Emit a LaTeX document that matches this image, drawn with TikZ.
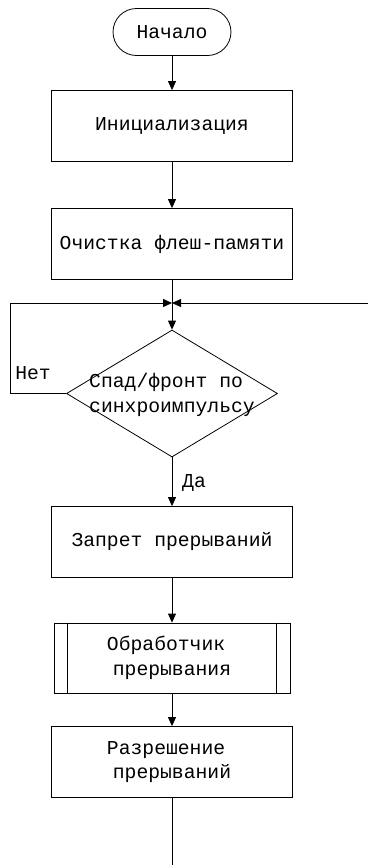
\documentclass[tikz,border=0pt]{standalone}
\usepackage{fontspec}
\setmainfont{Liberation Mono}
\usetikzlibrary{arrows.meta,shapes.geometric}
\begin{document}
\begin{tikzpicture}[x=1pt,y=-1pt,
  line width=0.8pt,
  every node/.style={font=\fontsize{19.7}{24.5}\selectfont},
  arr/.style={-{Triangle[length=9pt,width=8pt]}},
  procbox/.style={draw,rectangle,minimum width=241pt,minimum height=71pt,inner sep=0pt,align=center},
  subproc/.style={draw,rectangle,minimum width=236pt,minimum height=70pt,inner sep=0pt,align=center,
    append after command={
      \pgfextra{\let\tmpnode\tikzlastnode}
      ([xshift=14pt]\tmpnode.north west) edge[-] ([xshift=14pt]\tmpnode.south west)
      ([xshift=-14pt]\tmpnode.north east) edge[-] ([xshift=-14pt]\tmpnode.south east)}},
  termbox/.style={draw,rectangle,rounded corners=23.5pt,minimum width=118pt,minimum height=47pt,inner sep=0pt},
  decbox/.style={draw,diamond,minimum width=211pt,minimum height=127pt,inner sep=0pt},
  lbl/.style={inner sep=0pt}
]
\useasboundingbox (0,0) rectangle (368,865);

% blocks
\node[termbox] (start) at (172,32) {Начало};
\node[procbox] (init) at (172,126) {Инициализация};
\node[procbox] (flash) at (172,244) {Очистка флеш-памяти};
\coordinate (join) at (172,303);
\coordinate (feed) at (368,303);
\node[decbox] (dec) at (172,393.5) {};
\node[lbl,align=center] (dectext) at (172,395) {Спад/фронт по\phantom{x}\\синхроимпульсу};
\node[procbox] (ban) at (172,542) {Запрет прерываний};
\node[subproc] (handler) at (172,658) {Обработчик\phantom{x}\\прерывания};
\node[procbox] (allow) at (172,762) {Разрешение\phantom{x}\\прерываний};
\coordinate (out) at (172,865);

% labels
\node[lbl] (no) at (33,373) {Нет};
\node[lbl] (yes) at (194,483) {Да};

% connectors
\draw[arr] (start) -- (init);
\draw[arr] (init) -- (flash);
\draw (flash) -- (join);
\draw[arr] (dec.west) -- (10,393.5) -- (10,303) -- (join);
\draw[arr] (feed) -- (join);
\draw[arr] (join) -- (dec.north);
\draw[arr] (dec.south) -- (ban);
\draw[arr] (ban) -- (handler);
\draw[arr] (handler) -- (allow);
\draw (allow) -- (out);
\end{tikzpicture}
\end{document}
